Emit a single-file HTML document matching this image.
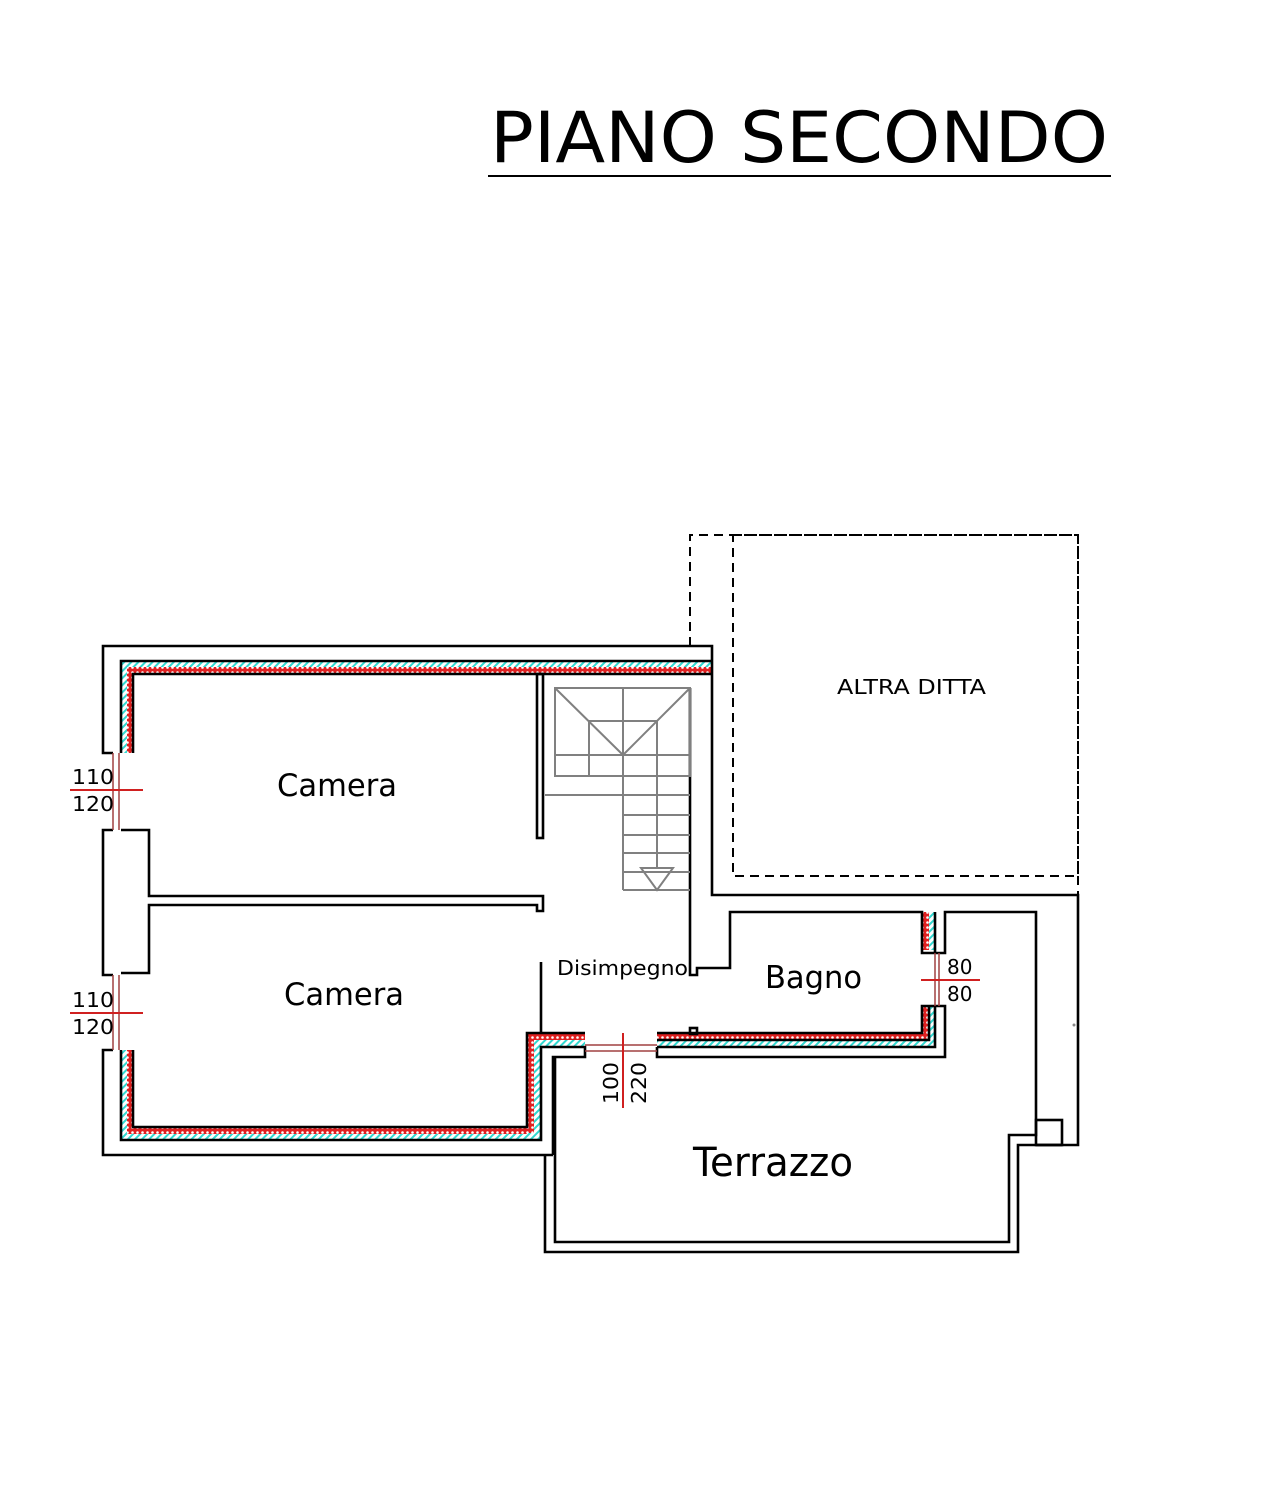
<!DOCTYPE html>
<html><head><meta charset="utf-8"><style>
html,body{margin:0;padding:0;background:#fff;}
svg{display:block;}
text{font-family:"DejaVu Sans","Liberation Sans",sans-serif;fill:#000;}
</style></head><body>
<svg width="1278" height="1506" viewBox="0 0 1278 1506" xmlns="http://www.w3.org/2000/svg">
<defs>
<pattern id="red" width="5" height="5" patternUnits="userSpaceOnUse"><rect width="5" height="5" fill="#e02020"/><circle cx="2.5" cy="2.5" r="1.3" fill="#fff"/></pattern>
<pattern id="cy" width="5" height="5" patternUnits="userSpaceOnUse" patternTransform="rotate(45)"><rect width="5" height="5" fill="#fff"/><rect width="2" height="5" fill="#30d8d0"/></pattern>
</defs>
<text x="490" y="162" font-size="70" textLength="618" lengthAdjust="spacingAndGlyphs">PIANO SECONDO</text>
<line x1="488" y1="176" x2="1111" y2="176" stroke="#000" stroke-width="2"/>

<g fill="none" stroke="#000" stroke-width="2" stroke-dasharray="9,6">
<polyline points="690,646 690,535 1078,535 1078,895"/>
<rect x="733" y="535" width="345" height="341"/>
</g>

<g>
<rect x="121" y="661" width="591" height="7" fill="url(#cy)"/>
<rect x="127" y="667" width="585" height="7" fill="url(#red)"/>
<rect x="121" y="661" width="6" height="92" fill="url(#cy)"/>
<rect x="127" y="667" width="6" height="86" fill="url(#red)"/>
<rect x="121" y="1050" width="6" height="90" fill="url(#cy)"/>
<rect x="127" y="1050" width="6" height="84" fill="url(#red)"/>
<rect x="121" y="1133" width="420" height="7" fill="url(#cy)"/>
<rect x="127" y="1127" width="400" height="7" fill="url(#red)"/>
<rect x="527" y="1033" width="7" height="100" fill="url(#red)"/>
<rect x="534" y="1040" width="7" height="100" fill="url(#cy)"/>
<rect x="527" y="1033" width="58" height="7" fill="url(#red)"/>
<rect x="541" y="1040" width="44" height="7" fill="url(#cy)"/>
<rect x="657" y="1033" width="272" height="7" fill="url(#red)"/>
<rect x="657" y="1040" width="278" height="7" fill="url(#cy)"/>
<rect x="922" y="1006" width="7" height="34" fill="url(#red)"/>
<rect x="929" y="1006" width="6" height="41" fill="url(#cy)"/>
<rect x="922" y="912" width="7" height="38" fill="url(#red)"/>
<rect x="929" y="912" width="6" height="38" fill="url(#cy)"/>
</g>

<g fill="none" stroke="#000" stroke-width="2.6">
<polyline points="113,753 103,753 103,646 712,646 712,895 1078,895 1078,1145 1036,1145"/>
<polyline points="121,753 121,661 712,661"/>
<polyline points="133,753 133,674 712,674"/>
<polyline points="113,830 103,830 103,975 113,975"/>
<polyline points="121,830 149,830 149,896 543,896 543,911 537,911 537,905 149,905 149,973 121,973"/>
<rect x="537" y="674" width="6" height="164"/>
<polyline points="113,1050 103,1050 103,1155 553,1155"/>
<polyline points="121,1050 121,1140 541,1140 541,1047 585,1047 585,1057 553,1057 553,1155"/>
<polyline points="133,1050 133,1127 527,1127 527,1033 585,1033"/>
<polyline points="545,1155 545,1252 1018,1252 1018,1145 1062,1145"/>
<polyline points="555,1057 555,1242 1009,1242 1009,1135 1036,1135 1036,912 945,912 945,953 935,953"/>
<rect x="1036" y="1120" width="26" height="25"/>
<polyline points="657,1047 657,1057 945,1057 945,1006 935,1006"/>
<polyline points="657,1033 922,1033 922,1006 935,1006"/>
<polyline points="657,1040 929,1040 929,1006"/>
<polyline points="935,953 922,953 922,912 730,912 730,968 697,968 697,975 690,975 690,688"/>
<polyline points="935,912 935,953"/>
<polyline points="935,1006 935,1047 657,1047"/>
<rect x="690" y="1028" width="7" height="6"/>
<line x1="541" y1="962" x2="541" y2="1033"/>
</g>

<g fill="none" stroke="#808080" stroke-width="2">
<rect x="555" y="688" width="135" height="88"/>
<line x1="555" y1="688" x2="623" y2="755"/><line x1="690" y1="688" x2="623" y2="755"/>
<rect x="589" y="721" width="68" height="34"/>
<line x1="589" y1="755" x2="589" y2="776"/>
<line x1="623" y1="688" x2="623" y2="890"/>
<line x1="657" y1="755" x2="657" y2="868"/>
<line x1="555" y1="755" x2="690" y2="755"/>
<line x1="545" y1="795" x2="690" y2="795"/>
<line x1="623" y1="815" x2="690" y2="815"/>
<line x1="623" y1="835" x2="690" y2="835"/>
<line x1="623" y1="853" x2="690" y2="853"/>
<line x1="623" y1="872" x2="690" y2="872"/>
<line x1="623" y1="890" x2="690" y2="890"/>
<polygon points="641,868 673,868 657,890"/>
</g>

<g stroke="#a04040" stroke-width="1.5" fill="none">
<line x1="113" y1="753" x2="113" y2="830"/><line x1="119" y1="753" x2="119" y2="830"/>
<line x1="113" y1="975" x2="113" y2="1050"/><line x1="119" y1="975" x2="119" y2="1050"/>
<line x1="585" y1="1045" x2="657" y2="1045"/><line x1="585" y1="1051" x2="657" y2="1051"/>
<line x1="935" y1="953" x2="935" y2="1006"/><line x1="939" y1="953" x2="939" y2="1006"/>
</g>
<g stroke="#d02020" stroke-width="2">
<line x1="70" y1="790" x2="143" y2="790"/>
<line x1="70" y1="1013" x2="143" y2="1013"/>
<line x1="623" y1="1033" x2="623" y2="1108"/>
<line x1="921" y1="980" x2="980" y2="980"/>
</g>

<g font-size="20">
<text x="72" y="784" textLength="42" lengthAdjust="spacingAndGlyphs">110</text><text x="72" y="811" textLength="42" lengthAdjust="spacingAndGlyphs">120</text>
<text x="72" y="1007" textLength="42" lengthAdjust="spacingAndGlyphs">110</text><text x="72" y="1034" textLength="42" lengthAdjust="spacingAndGlyphs">120</text>
<text x="947" y="974">80</text><text x="947" y="1001">80</text>
<text transform="translate(618,1104) rotate(-90)" textLength="42" lengthAdjust="spacingAndGlyphs">100</text>
<text transform="translate(646,1104) rotate(-90)" textLength="42" lengthAdjust="spacingAndGlyphs">220</text>
</g>
<text x="277" y="796" font-size="31" textLength="120" lengthAdjust="spacingAndGlyphs">Camera</text>
<text x="284" y="1005" font-size="31" textLength="120" lengthAdjust="spacingAndGlyphs">Camera</text>
<text x="765" y="988" font-size="31" textLength="97" lengthAdjust="spacingAndGlyphs">Bagno</text>
<text x="693" y="1176" font-size="40" textLength="160" lengthAdjust="spacingAndGlyphs">Terrazzo</text>
<text x="557" y="975" font-size="20" textLength="131" lengthAdjust="spacingAndGlyphs">Disimpegno</text>
<text x="837" y="694" font-size="20" textLength="149" lengthAdjust="spacingAndGlyphs">ALTRA DITTA</text>
<circle cx="1074" cy="1025" r="1.5" fill="#888"/>
</svg>
</body></html>
